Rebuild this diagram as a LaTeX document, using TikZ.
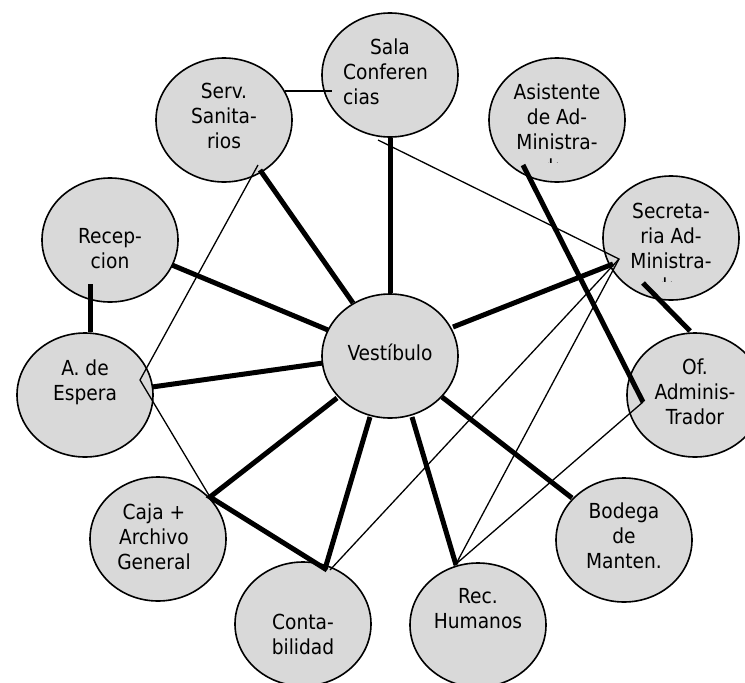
\documentclass[tikz,border=0pt]{standalone}
\usepackage{fontspec}
\setmainfont{DejaVu Sans Condensed}
\usetikzlibrary{shapes.geometric,calc}
\definecolor{roomgray}{RGB}{217,217,217}
\tikzset{
  room/.style={ellipse, draw=black, line width=1.6pt, fill=roomgray,
    minimum width=136pt, minimum height=124pt, inner sep=0pt},
  roomtext/.style={anchor=north, align=center, inner sep=0pt, text=black,
    font=\fontsize{20.7}{25}\selectfont,
    execute at begin node={\rule{0pt}{16pt}}},
  heavy/.style={line width=5pt, line join=miter},
  light/.style={line width=1.3pt, line join=miter}
}
\begin{document}
\begin{tikzpicture}[x=1pt,y=-1pt]
\clip (0,0) rectangle (745,683);
\fill[white] (0,0) rectangle (745,683);
% rooms
\node[room] (sala)   at (390,75)  {};
\node[room] (sanit)  at (224,120) {};
\node[room] (asist)  at (557,120) {};
\node[room] (secre)  at (671,238) {};
\node[room] (ofadm)  at (695,395) {};
\node[room] (recep)  at (110,240) {};
\node[room] (espera) at (85,395)  {};
\node[room] (vest)   at (390,356) {};
\node[room] (caja)   at (158,539) {};
\node[room] (conta)  at (303,624) {};
\node[room] (rech)   at (478,625) {};
\node[room] (bodega) at (624,540) {};
% heavy connectors
\draw[heavy] ($(sanit)+(36,50)$) -- ($(vest)+(-37,-53)$);
\draw[heavy] (sala.south) -- (vest.north);
\draw[heavy] ($(recep)+(62,25)$) -- ($(vest)+(-62,-26)$);
\draw[heavy] ($(recep)+(-20,44)$) -- ($(espera)+(5,-63)$);
\draw[heavy] ($(espera)+(67,-8)$) -- ($(vest)+(-67,7)$);
\draw[heavy] ($(vest)+(63,-29)$) -- ($(secre)+(-58,26)$);
\draw[heavy] ($(asist)+(-34,45)$) -- ($(ofadm)+(-52,7)$);
\draw[heavy] ($(secre)+(-28,45)$) -- ($(ofadm)+(-5,-64)$);
\draw[heavy] ($(vest)+(-53,42)$) -- ($(caja)+(52,-42)$) -- ($(conta)+(24,-54)$);
\draw[heavy] ($(vest)+(-20,61)$) -- ($(conta)+(22,-55)$);
\draw[heavy] ($(vest)+(22,61)$) -- ($(rech)+(-22,-60)$);
\draw[heavy] ($(vest)+(52,41)$) -- ($(bodega)+(-52,-42)$);
% light connectors
\draw[light] ($(sanit)+(61,-29)$) -- ($(sala)+(-58,16)$);
\draw[light] ($(sala)+(-12,65)$) -- ($(secre)+(-52,21)$) -- ($(conta)+(27,-54)$);
\draw[light] ($(secre)+(-52,21)$) -- ($(rech)+(-22,-61)$) -- ($(ofadm)+(-52,7)$);
\draw[light] ($(sanit)+(34,45)$) -- ($(espera)+(55,-15)$) -- ($(caja)+(52,-42)$);
% texts
\node[roomtext] (sala-t) at (385.5,38.5) {\hspace*{9pt}Sala\\Conferen\\\rlap{cias}\phantom{Conferen}};
\node[roomtext] (sanit-t) at (224,82.5) {Serv.\\Sanita-\\rios};
\node[roomtext] (asist-t) at (557,83.5) {Asistente\\de Ad-\\Ministra-};
\node[roomtext] (secre-t) at (671,202.5) {Secreta-\\ria Ad-\\Ministra-};
\node[roomtext] (ofadm-t) at (695,358.5) {Of.\\Adminis-\\Trador};
\node[roomtext] (recep-t) at (110,228.5) {Recep-\\cion};
\node[roomtext] (espera-t) at (85,359.5) {A. de\\Espera};
\node[roomtext] (vest-t) at (390,343.5) {Vestíbulo};
\node[roomtext] (caja-t) at (154,503.5) {Caja +\\Archivo\\General};
\node[roomtext] (conta-t) at (303,613.5) {Conta-\\bilidad};
\node[roomtext] (rech-t) at (478,588.5) {Rec.\\Humanos};
\node[roomtext] (bodega-t) at (624,502.5) {Bodega\\de\\Manten.};
\begin{scope}
\clip (548,150) rectangle (557,162);
\node[roomtext] (asist-t4) at (557,158.5) {dor};
\end{scope}
\begin{scope}
\clip (662,270) rectangle (671,281);
\node[roomtext] (secre-t4) at (671,277.5) {dor};
\end{scope}
\end{tikzpicture}
\end{document}
